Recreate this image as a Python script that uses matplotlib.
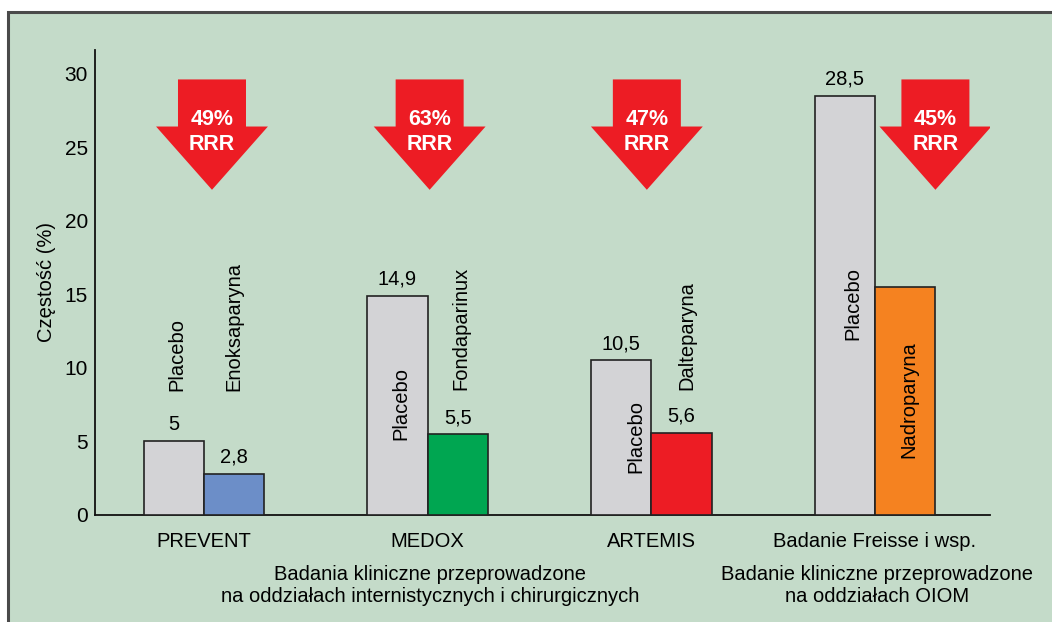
import matplotlib
matplotlib.use('Agg')
import matplotlib.pyplot as plt
from matplotlib.patches import Rectangle, Polygon
import numpy as np

plt.rcParams['font.family'] = ['Liberation Sans', 'DejaVu Sans']

# dane
studies = ['PREVENT', 'MEDOX', 'ARTEMIS', 'Badanie Freisse i wsp.']
placebo = [5.0, 14.9, 10.5, 28.5]
active = [2.8, 5.5, 5.6, 15.5]
placebo_lbl = ['5', '14,9', '10,5', '28,5']
active_lbl = ['2,8', '5,5', '5,6', '']
drugs = ['Enoksaparyna', 'Fondaparinux', 'Dalteparyna', 'Nadroparyna']
rrr = ['49%', '63%', '47%', '45%']

BG = '#C4DBC9'
GRAY = '#D3D3D6'
DRUG_COL = ['#6C8EC8', '#00A651', '#ED1C24', '#F58220']
ARROW = '#ED1C24'
FS = 14.5

fig = plt.figure(figsize=(10.52, 6.22), dpi=100)
fig.patch.set_facecolor('white')
fig.patches.append(Rectangle((8 / 1052, -0.1), 1.2, 1.1 - 12 / 622,
                             transform=fig.transFigure, facecolor=BG,
                             edgecolor='#4A4A4A', linewidth=2.2, zorder=-5))

ax = fig.add_axes([95 / 1052, 107 / 622, 895 / 1052, 465 / 622])
ax.set_zorder(2)
ax.set_facecolor('none')

x = np.arange(len(studies))
w = 0.27
ax.bar(x - w / 2, placebo, w, color=GRAY, edgecolor='#222222', linewidth=1.2, zorder=3)
ax.bar(x + w / 2, active, w, color=DRUG_COL, edgecolor='#222222', linewidth=1.2, zorder=3)

ax.set_xlim(-0.487, 3.514)
ax.set_ylim(0, 31.6)
ax.set_yticks([0, 5, 10, 15, 20, 25, 30])
ax.set_xticks(x)
ax.set_xticklabels(studies, fontsize=FS)
ax.tick_params(axis='both', length=0)
ax.tick_params(axis='y', labelsize=FS + 0.5, pad=5)
ax.tick_params(axis='x', pad=12)
for s in ['top', 'right']:
    ax.spines[s].set_visible(False)
for s in ['left', 'bottom']:
    ax.spines[s].set_linewidth(1.3)
    ax.spines[s].set_color('#111111')
ax.set_ylabel('Częstość (%)', fontsize=FS, labelpad=6)

# wartości nad słupkami
for i in range(len(studies)):
    ax.annotate(placebo_lbl[i], (x[i] - w / 2, placebo[i]), xytext=(0, 5),
                textcoords='offset points', ha='center', va='bottom', fontsize=FS)
    if active_lbl[i]:
        ax.annotate(active_lbl[i], (x[i] + w / 2, active[i]), xytext=(0, 5),
                    textcoords='offset points', ha='center', va='bottom', fontsize=FS)

# pionowe podpisy
plac_pos = [(-0.12, 8.4), (0.88, 5.1), (1.93, 2.85), (2.9, 11.9)]
drug_pos = [(0.134, 8.4), (1.15, 8.5), (2.16, 8.5), (3.15, 3.9)]
for (px, py) in plac_pos:
    ax.text(px, py, 'Placebo', rotation=90, ha='center', va='bottom', fontsize=FS, zorder=5)
for (dx, dy), name in zip(drug_pos, drugs):
    ax.text(dx, dy, name, rotation=90, ha='center', va='bottom', fontsize=FS, zorder=5)

# strzałki RRR
arrow_x = [0.036, 1.009, 1.98, 3.27]
sw, hw = 0.152, 0.25
y_top, y_head, y_tip = 29.6, 26.4, 22.1
for cx, r in zip(arrow_x, rrr):
    pts = [(cx - sw, y_top), (cx + sw, y_top), (cx + sw, y_head), (cx + hw, y_head),
           (cx, y_tip), (cx - hw, y_head), (cx - sw, y_head)]
    ax.add_patch(Polygon(pts, closed=True, facecolor=ARROW, edgecolor='none', zorder=4))
    ax.text(cx, 26.85, r, ha='center', va='center', color='white', fontsize=FS + 1,
            fontweight='bold', zorder=5)
    ax.text(cx, 25.2, 'RRR', ha='center', va='center', color='white', fontsize=FS + 1,
            fontweight='bold', zorder=5)

# opisy grup badań
fig.text(430 / 1052, 1 - 575 / 622, 'Badania kliniczne przeprowadzone',
         ha='center', va='center', fontsize=FS)
fig.text(430 / 1052, 1 - 597 / 622, 'na oddziałach internistycznych i chirurgicznych',
         ha='center', va='center', fontsize=FS)
fig.text(877 / 1052, 1 - 575 / 622, 'Badanie kliniczne przeprowadzone',
         ha='center', va='center', fontsize=FS)
fig.text(877 / 1052, 1 - 597 / 622, 'na oddziałach OIOM',
         ha='center', va='center', fontsize=FS)

fig.savefig('out.png', dpi=100, facecolor='white')
